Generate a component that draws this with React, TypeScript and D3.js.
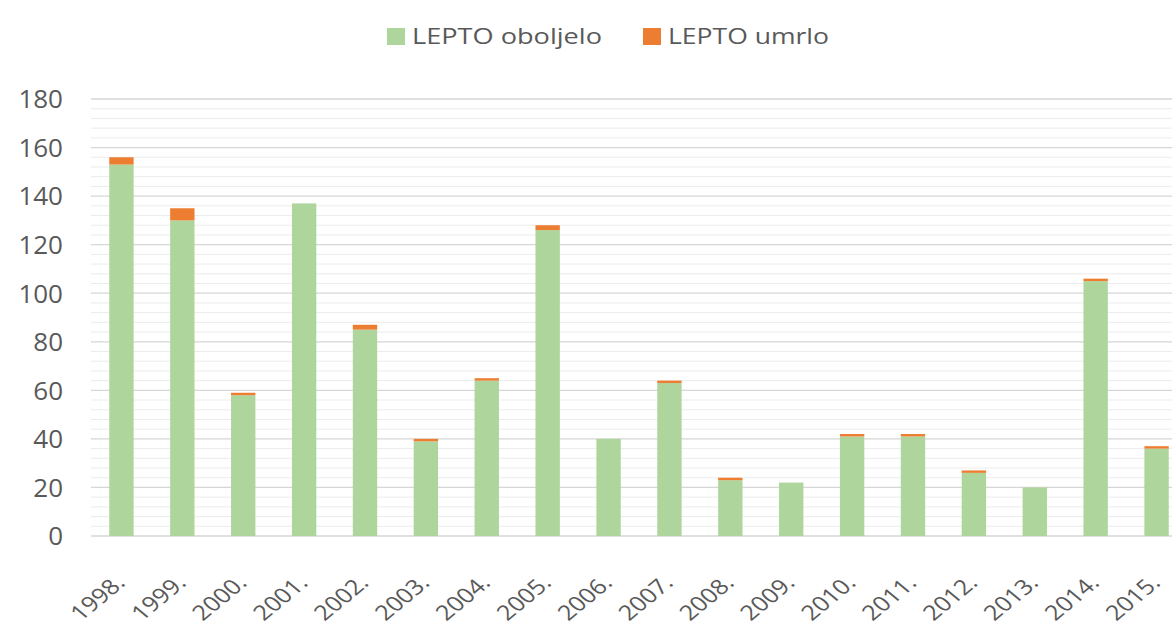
import React, { useEffect, useRef } from 'react';
import * as d3 from 'd3';

const years = ['1998.', '1999.', '2000.', '2001.', '2002.', '2003.', '2004.', '2005.', '2006.',
    '2007.', '2008.', '2009.', '2010.', '2011.', '2012.', '2013.', '2014.', '2015.'];
const oboljelo = [153, 130, 58, 137, 85, 39, 64, 126, 40, 63, 23, 22, 41, 41, 26, 20, 105, 36];
const umrlo = [3, 5, 1, 0, 2, 1, 1, 2, 0, 1, 1, 0, 1, 1, 1, 0, 1, 1];
const yTicks = [0, 20, 40, 60, 80, 100, 120, 140, 160, 180];
const seriesNames = ['LEPTO oboljelo', 'LEPTO umrlo'];
const colours = ['#aed59b', '#ed7d31'];

const W = 1172;
const H = 627;
const FONT = '"Open Sans", "Noto Sans", sans-serif';

export default function App() {
    const ref = useRef<SVGSVGElement>(null);

    useEffect(() => {
        const svg = d3.select(ref.current);
        svg.selectAll('*').remove();

        const x = d3.scaleBand<string>()
            .domain(years)
            .range([91, 1187])
            .paddingInner(0.6)
            .paddingOuter(0.3);

        const y = d3.scaleLinear()
            .domain([0, 180])
            .range([536, 99]);

        // minor grid every 4
        const minor = d3.range(0, 181, 4).filter(v => v % 20 !== 0);
        svg.append('g').selectAll('line')
            .data(minor)
            .enter().append('line')
            .attr('x1', 91).attr('x2', W)
            .attr('y1', d => y(d)).attr('y2', d => y(d))
            .attr('stroke', '#ececec')
            .attr('stroke-width', 1);

        svg.append('g').selectAll('line')
            .data(yTicks)
            .enter().append('line')
            .attr('x1', 91).attr('x2', W)
            .attr('y1', d => y(d)).attr('y2', d => y(d))
            .attr('stroke', '#d6d6d6')
            .attr('stroke-width', 1.3);

        // y labels
        svg.append('g').selectAll('text')
            .data(yTicks)
            .enter().append('text')
            .attr('x', 63)
            .attr('y', d => y(d))
            .attr('dy', '0.36em')
            .attr('text-anchor', 'end')
            .attr('font-family', FONT)
            .attr('font-size', 26)
            .attr('fill', '#595959')
            .text(d => d);

        // bars
        const bw = x.bandwidth();
        svg.append('g').selectAll('rect')
            .data(years)
            .enter().append('rect')
            .attr('x', d => x(d)!)
            .attr('width', bw)
            .attr('y', (d, i) => y(oboljelo[i]))
            .attr('height', (d, i) => y(0) - y(oboljelo[i]))
            .attr('fill', colours[0]);

        svg.append('g').selectAll('rect')
            .data(years)
            .enter().append('rect')
            .attr('x', d => x(d)!)
            .attr('width', bw)
            .attr('y', (d, i) => y(oboljelo[i] + umrlo[i]))
            .attr('height', (d, i) => y(oboljelo[i]) - y(oboljelo[i] + umrlo[i]))
            .attr('fill', colours[1]);

        // x labels (picture is stretched sideways, hence the scale)
        svg.append('g').selectAll('text')
            .data(years)
            .enter().append('text')
            .attr('transform', d => `translate(${x(d)! + bw / 2 + 5},584) scale(1.2,1) rotate(-45)`)
            .attr('text-anchor', 'end')
            .attr('font-family', FONT)
            .attr('font-size', 21)
            .attr('fill', '#595959')
            .text(d => d);

        // legend
        const legendX = [387, 643];
        const legendLen = [190, 161];
        const lg = svg.append('g');
        seriesNames.forEach((name, i) => {
            lg.append('rect')
                .attr('x', legendX[i]).attr('y', 28)
                .attr('width', 18).attr('height', 17)
                .attr('fill', colours[i]);
            lg.append('text')
                .attr('x', legendX[i] + 25).attr('y', 44)
                .attr('textLength', legendLen[i])
                .attr('lengthAdjust', 'spacingAndGlyphs')
                .attr('font-family', FONT)
                .attr('font-size', 22)
                .attr('fill', '#595959')
                .text(name);
        });
    }, []);

    return (
        <svg ref={ref} width={W} height={H}
            style={{ position: 'absolute', left: 0, top: 0, background: '#fff' }} />
    );
}
